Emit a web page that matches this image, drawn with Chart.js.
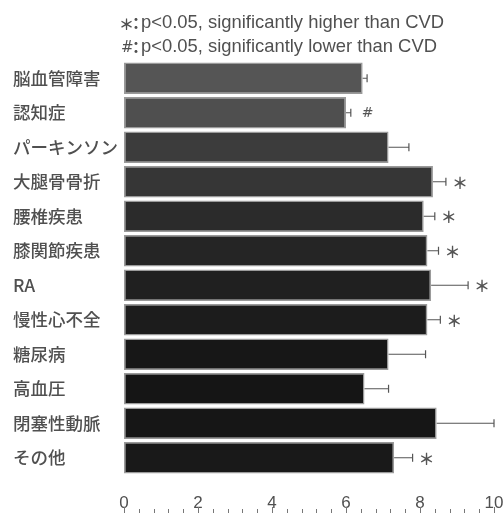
<!DOCTYPE html>
<html>
<head>
<meta charset="utf-8">
<script src="https://cdn.jsdelivr.net/npm/chart.js@4.4.1/dist/chart.umd.min.js"></script>
<style>
  html, body { margin: 0; padding: 0; background: #fff; }
  #wrap { position: relative; width: 503px; height: 513px; }
</style>
</head>
<body>
<div id="wrap"><canvas id="DiseaseChartjs" width="503" height="513"></canvas></div>
<script>
const diseases = ['脳血管障害', '認知症', 'パーキンソン', '大腿骨骨折', '腰椎疾患', '膝関節疾患', 'RA', '慢性心不全', '糖尿病', '高血圧', '閉塞性動脈', 'その他'];
const means = [6.45, 6.0, 7.15, 8.35, 8.1, 8.2, 8.3, 8.2, 7.15, 6.5, 8.45, 7.3];
const errors = [0.12, 0.13, 0.55, 0.35, 0.3, 0.3, 1.0, 0.35, 1.0, 0.65, 1.55, 0.5];
const marks = ['', '#', '', '*', '*', '*', '*', '*', '', '', '', '*'];
const xTicks = [0, 2, 4, 6, 8, 10];
const noteMarks = ['＊', '#'];
const noteLines = ['p<0.05, significantly higher than CVD', 'p<0.05, significantly lower than CVD'];

const barColors = ['#555555', '#4f4f4f', '#3c3c3c', '#363636', '#2b2b2b', '#252525', '#202020', '#1c1c1c', '#171717', '#151515', '#161616', '#191919'];
const textColor = '#505050';

// error bars + significance marks
const errorBarPlugin = {
    id: 'errorBars',
    afterDatasetsDraw(chart) {
        const ctx = chart.ctx;
        const x = chart.scales.x;
        const meta = chart.getDatasetMeta(0);
        ctx.save();
        ctx.strokeStyle = '#555';
        ctx.lineWidth = 1.2;
        meta.data.forEach(function (bar, i) {
            const x0 = x.getPixelForValue(means[i]);
            const x1 = x.getPixelForValue(means[i] + errors[i]);
            ctx.beginPath();
            ctx.moveTo(x0, bar.y);
            ctx.lineTo(x1, bar.y);
            ctx.moveTo(x1, bar.y - 4);
            ctx.lineTo(x1, bar.y + 4);
            ctx.stroke();
            if (marks[i]) {
                ctx.fillStyle = '#555';
                ctx.textAlign = 'left';
                ctx.textBaseline = 'middle';
                if (marks[i] == '*') {
                    ctx.font = 'bold 16px "Noto Sans CJK JP"';
                    ctx.fillText('＊', x1 + 6, bar.y + 1);
                } else {
                    ctx.font = '14px "DejaVu Sans"';
                    ctx.fillText('#', x1 + 11, bar.y + 1);
                }
            }
        });
        ctx.restore();
    }
};

// notes above the bars, and the small ticks under the numbers
const notesPlugin = {
    id: 'notes',
    afterDraw(chart) {
        const ctx = chart.ctx;
        const x = chart.scales.x;
        ctx.save();
        ctx.fillStyle = textColor;
        ctx.textAlign = 'left';
        ctx.textBaseline = 'middle';
        const ys = [23, 47];
        for (let i = 0; i < 2; i++) {
            ctx.font = i == 0 ? 'bold 15px "Noto Sans CJK JP"' : '15px "DejaVu Sans"';
            ctx.fillText(noteMarks[i], i == 0 ? 119 : 121, ys[i] + 1);
            ctx.font = 'bold 16px "Noto Sans CJK JP"';
            ctx.fillText('：', 128, ys[i]);
            ctx.font = '18.4px "Liberation Sans", Arial, sans-serif';
            ctx.fillText(noteLines[i], 141, ys[i]);
        }

        ctx.strokeStyle = '#777';
        ctx.lineWidth = 1;
        for (let k = 0; k <= 25; k++) {
            const v = k * 0.4;
            const px = Math.round(x.getPixelForValue(v)) + 0.5;
            const major = k % 5 == 0;
            ctx.beginPath();
            ctx.moveTo(px, major ? 507 : 509);
            ctx.lineTo(px, 513);
            ctx.stroke();
        }
        ctx.restore();
    }
};

new Chart(document.getElementById('DiseaseChartjs').getContext('2d'), {
    type: 'bar',
    data: {
        labels: diseases,
        datasets: [{
            data: means,
            backgroundColor: barColors,
            borderColor: '#9a9a9a',
            borderWidth: 1.5,
            borderSkipped: false,
            barPercentage: 0.91,
            categoryPercentage: 1.0
        }]
    },
    options: {
        indexAxis: 'y',
        responsive: false,
        animation: false,
        layout: { padding: { top: 61, right: 9, left: 13, bottom: 0 } },
        plugins: {
            legend: { display: false },
            tooltip: { enabled: false }
        },
        scales: {
            x: {
                min: 0,
                max: 10,
                afterFit(scale) {
                    scale.height = 38;
                    scale.paddingLeft = 0;
                    scale.paddingRight = 0;
                },
                afterBuildTicks(scale) { scale.ticks = xTicks.map(v => ({ value: v })); },
                grid: { display: false, drawTicks: false },
                border: { display: false },
                ticks: {
                    color: textColor,
                    padding: 18,
                    font: { family: '"Liberation Sans", Arial, sans-serif', size: 17 }
                }
            },
            y: {
                afterFit(scale) { scale.width = 111; },
                grid: { display: false, drawTicks: false },
                border: { display: false },
                ticks: {
                    color: textColor,
                    crossAlign: 'far',
                    padding: 6,
                    font: { family: '"Noto Sans CJK JP", sans-serif', size: 17.5, weight: '500' }
                }
            }
        }
    },
    plugins: [errorBarPlugin, notesPlugin]
});
</script>
</body>
</html>
